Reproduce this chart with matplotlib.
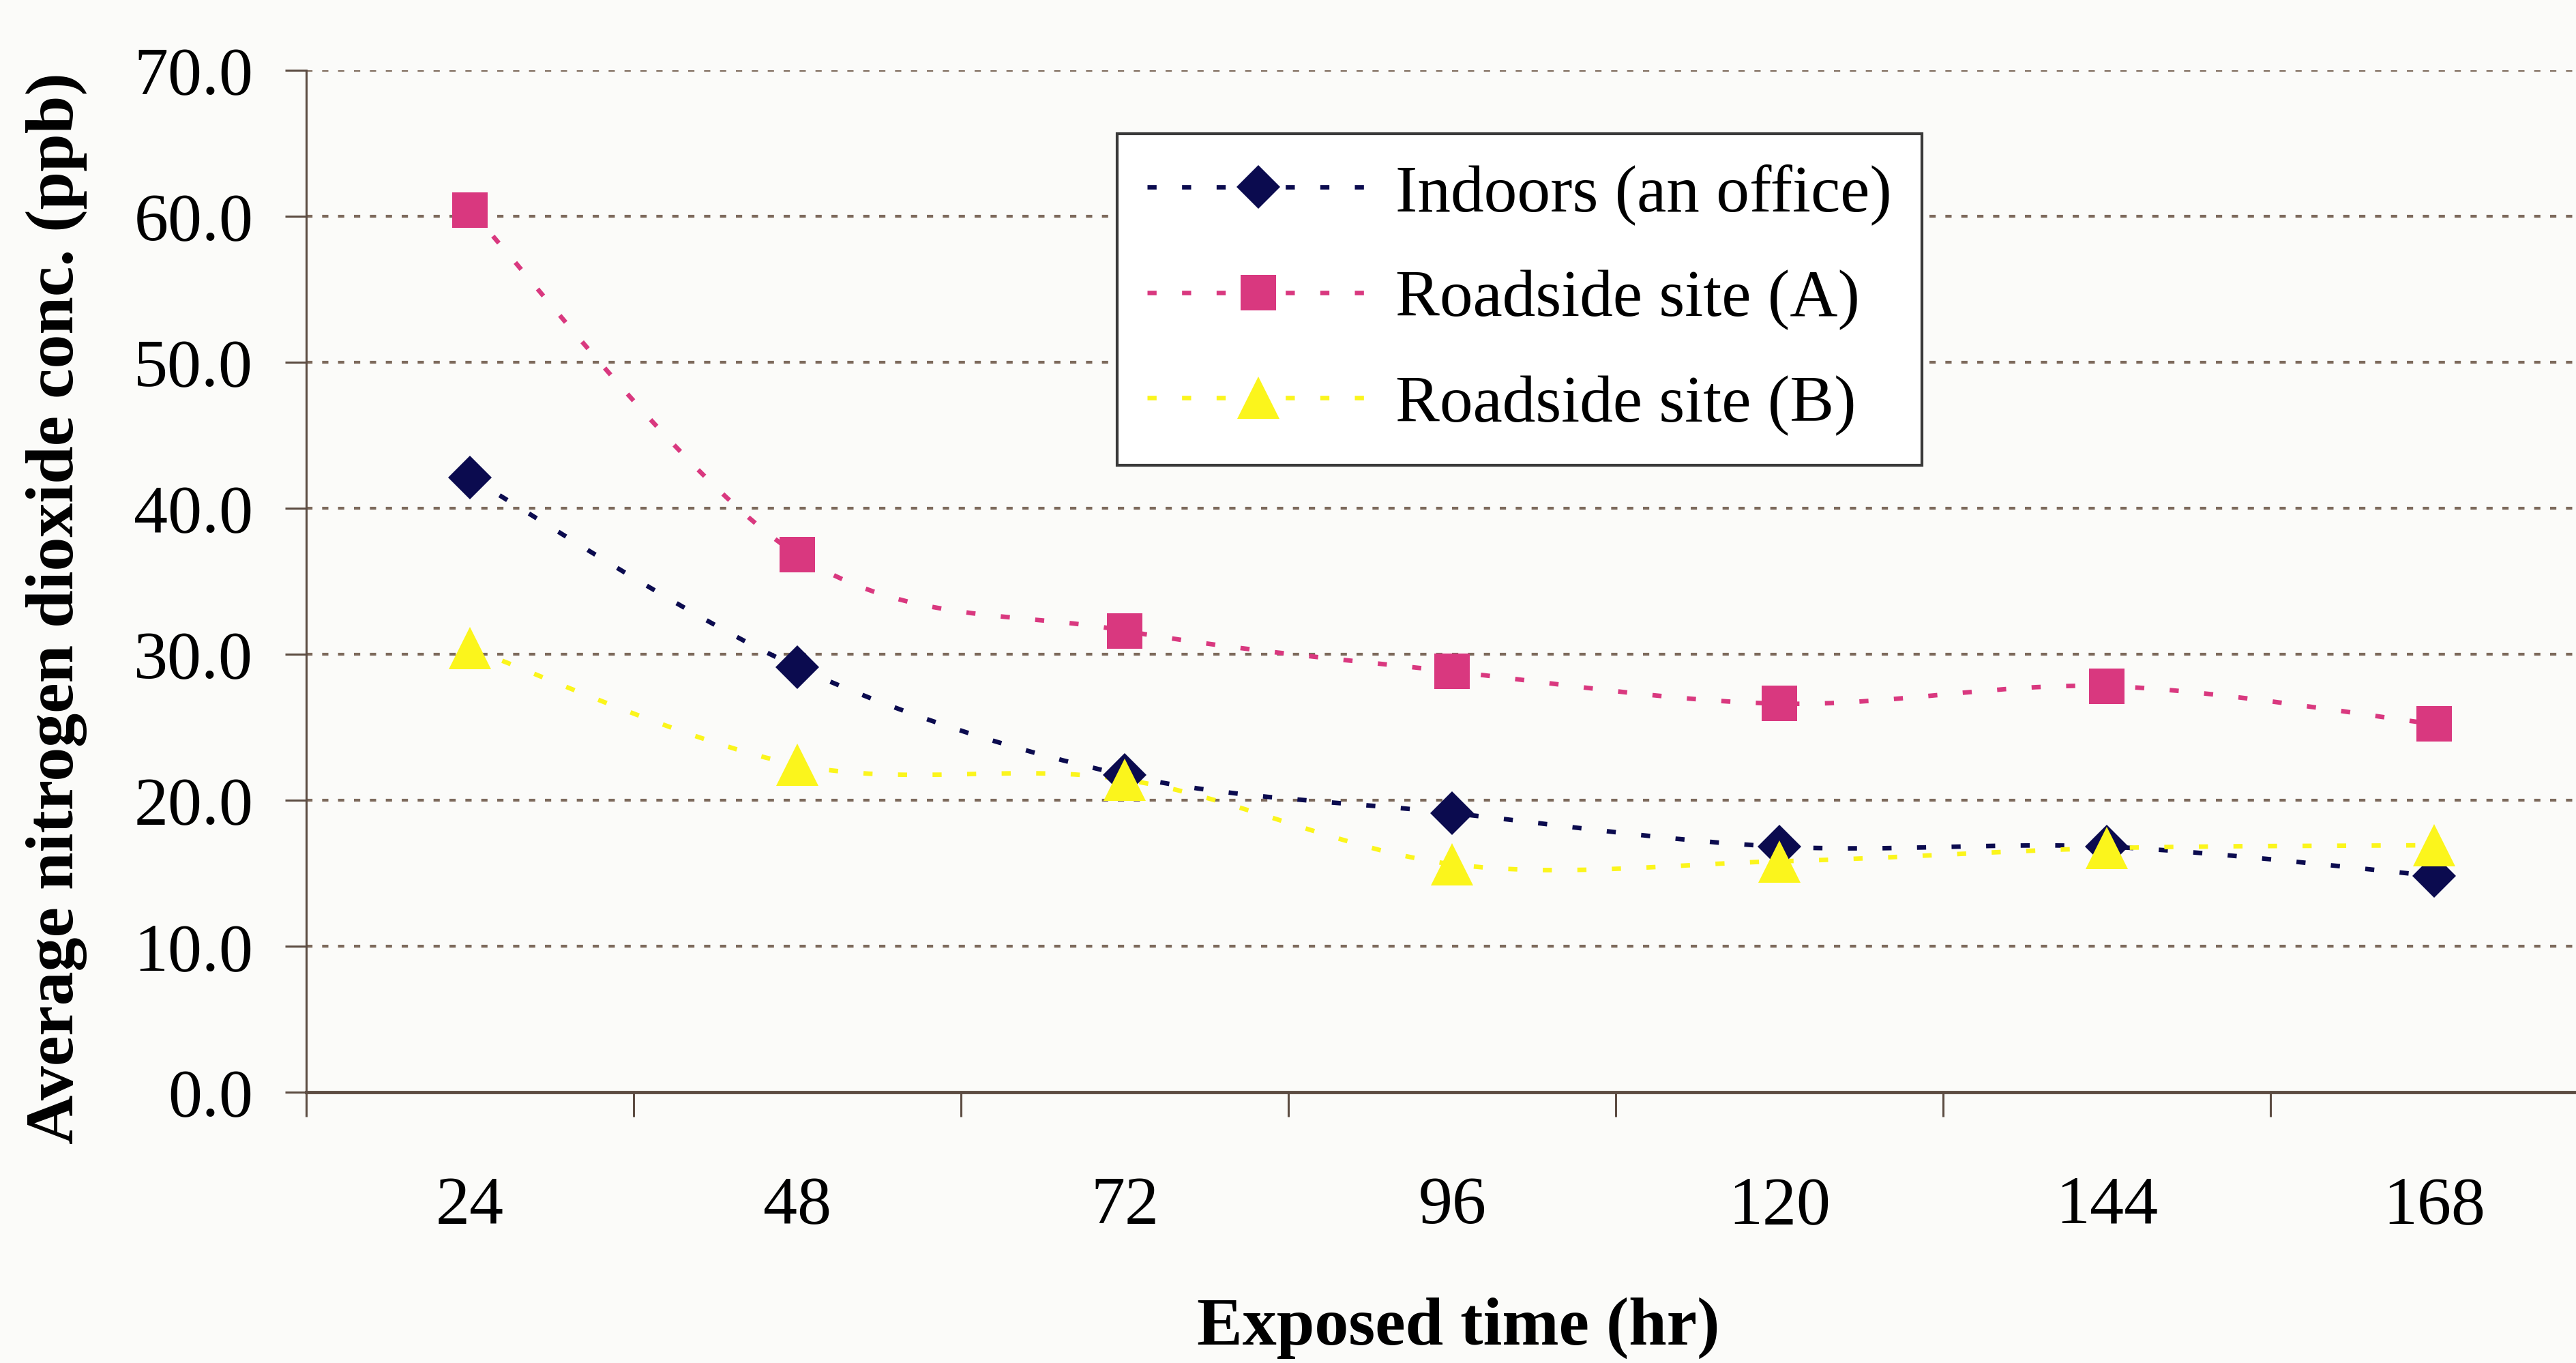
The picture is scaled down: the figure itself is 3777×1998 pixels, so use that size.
import numpy as np
import matplotlib
matplotlib.use("Agg")
import matplotlib.pyplot as plt
from matplotlib.path import Path
from matplotlib.patches import PathPatch
from matplotlib.lines import Line2D

# Data
hours = ["24", "48", "72", "96", "120", "144", "168"]
indoors = [42.1, 29.1, 21.7, 19.1, 16.8, 16.8, 14.8]
roadside_a = [60.4, 36.8, 31.6, 28.8, 26.6, 27.8, 25.2]
roadside_b = [30.4, 22.4, 21.4, 15.6, 15.8, 16.7, 16.9]

series = [
    ("Indoors (an office)", indoors, "#0b0b4f", "D", 33),
    ("Roadside site (A)", roadside_a, "#d9387f", "s", 38),
    ("Roadside site (B)", roadside_b, "#fbf51c", "^", 44),
]

plt.rcParams["font.family"] = ["Liberation Serif", "DejaVu Serif"]
bg = "#fbfbf9"
axis_col = "#5c4c42"
grid_col = "#7d6a5c"
line_lw = 4.8
line_dash = (0, (2.0, 5.6))


def smooth_path(xs, ys):
    # Excel-style smoothed line (Catmull-Rom as cubic Bezier)
    pts = np.column_stack([xs, ys]).astype(float)
    n = len(pts)
    verts = [pts[0]]
    codes = [Path.MOVETO]
    for i in range(n - 1):
        p0 = pts[i - 1] if i > 0 else pts[i]
        p1 = pts[i]
        p2 = pts[i + 1]
        p3 = pts[i + 2] if i + 2 < n else pts[i + 1]
        verts += [p1 + (p2 - p0) / 6, p2 - (p3 - p1) / 6, p2]
        codes += [Path.CURVE4] * 3
    return Path(verts, codes)


fig = plt.figure(figsize=(37.77, 19.99), dpi=100, facecolor=bg)
ax = fig.add_axes([0.1189, 0.1988, 0.8897, 0.7492])
ax.set_facecolor(bg)

x = np.arange(len(hours))
handles = []
for label, vals, col, mk, ms in series:
    patch = PathPatch(smooth_path(x, vals), fill=False, edgecolor=col,
                      lw=line_lw, linestyle=line_dash, zorder=3)
    ax.add_patch(patch)
    ax.plot(x, vals, linestyle="none", marker=mk, markersize=ms,
            color=col, markeredgewidth=0, zorder=4)
    handles.append(Line2D([], [], color=col, lw=line_lw, linestyle=line_dash,
                          marker=mk, markersize=ms, markeredgewidth=0))

ax.set_xlim(-0.5, len(hours) - 0.5)
ax.set_ylim(0, 70)

# y axis
ax.set_yticks(np.arange(0, 71, 10))
ax.set_yticklabels([f"{v:.1f}" for v in np.arange(0, 71, 10)])
ax.tick_params(axis="y", direction="out", length=22, width=2.2,
               color=axis_col, labelsize=72, pad=34)
for yv in range(10, 71, 10):
    ax.axhline(yv, color=grid_col, lw=3, linestyle=(0, (2.2, 3.4)),
               zorder=1)

# x axis: labels at categories, ticks between them
ax.set_xticks(x)
ax.set_xticklabels(hours)
ax.set_xticks(np.arange(-0.5, len(hours) + 0.5, 1), minor=True)
ax.tick_params(axis="x", which="major", length=0, labelsize=72, pad=88)
ax.tick_params(axis="x", which="minor", direction="out", length=26,
               width=2.2, color=axis_col)

for side in ["top", "right"]:
    ax.spines[side].set_visible(False)
ax.spines["left"].set_color(axis_col)
ax.spines["left"].set_linewidth(2.2)
ax.spines["bottom"].set_color(axis_col)
ax.spines["bottom"].set_linewidth(3.5)

fig.text(0.566, 0.026, "Exposed time (hr)", ha="center", va="center",
         fontsize=72, fontweight="bold")
fig.text(0.022, 0.554, "Average nitrogen dioxide conc. (ppb)", ha="center",
         va="center", rotation=90, fontsize=72, fontweight="bold")

leg = ax.legend(handles, [s[0] for s in series], loc="upper left",
                bbox_to_anchor=(0.4337, 0.9015), bbox_transform=fig.transFigure,
                fontsize=70, frameon=True, fancybox=False, framealpha=1,
                edgecolor="#3a3a3a", facecolor="white", handlelength=3.35,
                handletextpad=0.4, labelspacing=0.67, borderpad=0.45,
                borderaxespad=0)
leg.get_frame().set_linewidth(3)
leg.set_zorder(5)

fig.savefig("out.png", dpi=100, facecolor=bg)
